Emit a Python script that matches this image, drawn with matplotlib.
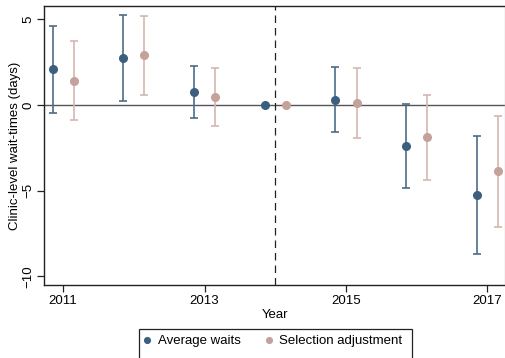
import matplotlib
matplotlib.use("Agg")
import matplotlib.pyplot as plt
from matplotlib.patches import Rectangle
import numpy as np

plt.rcParams['font.family'] = ['Liberation Sans', 'DejaVu Sans']

years = [2011, 2012, 2013, 2014, 2015, 2016, 2017]

avg_est = [2.07, 2.73, 0.78, 0.0, 0.31, -2.40, -5.25]
avg_lo = [-0.47, 0.25, -0.76, 0.0, -1.61, -4.84, -8.70]
avg_hi = [4.61, 5.25, 2.27, 0.0, 2.19, 0.04, -1.80]

sel_est = [1.41, 2.89, 0.47, 0.0, 0.10, -1.90, -3.88]
sel_lo = [-0.91, 0.56, -1.24, 0.0, -1.94, -4.40, -7.13]
sel_hi = [3.74, 5.21, 2.17, 0.0, 2.13, 0.60, -0.62]

xticks = [2011, 2013, 2015, 2017]
yticks = [-10, -5, 0, 5]
event_year = 2014
offset = 0.15

blue = '#3d5f7e'
blue_bar = '#4d6d88'
pink = '#c4a29b'
pink_bar = '#d4b6b0'

W, H = 506, 358
fig = plt.figure(figsize=(W / 100, H / 100), dpi=100)
ax = fig.add_axes([0.087, 0.204, 0.911, 0.779])

x = np.array(years, dtype=float)


def draw(xs, est, lo, hi, color, barcolor, label):
    est = np.array(est)
    lo = np.array(lo)
    hi = np.array(hi)
    has_ci = hi != lo
    ax.errorbar(xs[has_ci], est[has_ci],
                yerr=[est[has_ci] - lo[has_ci], hi[has_ci] - est[has_ci]],
                fmt='none', ecolor=barcolor, elinewidth=1.2, capsize=3.2,
                capthick=1.2, zorder=3)
    ax.plot(xs, est, 'o', color=color, markersize=5.5, zorder=4,
            linestyle='none', label=label)


ax.axhline(0, color='#555555', linewidth=1.0, zorder=2)
ax.axvline(event_year, color='#222222', linewidth=0.9, linestyle=(0, (6, 4)), zorder=2)

draw(x - offset, avg_est, avg_lo, avg_hi, blue, blue_bar, 'Average waits')
draw(x + offset, sel_est, sel_lo, sel_hi, pink, pink_bar, 'Selection adjustment')

ax.set_xlim(2010.73, 2017.25)
ax.set_ylim(-10.5, 5.76)
ax.set_xticks(xticks)
ax.set_yticks(yticks)
ax.tick_params(axis='both', direction='out', length=5, width=0.9, labelsize=9.5,
               color='#222222')
ax.tick_params(axis='y', labelrotation=90, pad=2)
for lab in ax.get_yticklabels():
    lab.set_va('center')
ax.tick_params(axis='x', pad=2)

ax.set_xlabel('Year', fontsize=9.5, labelpad=2)
ax.set_ylabel('Clinic-level wait-times (days)', fontsize=9.5, labelpad=1)

for side in ['left', 'bottom', 'top']:
    ax.spines[side].set_color('#222222')
    ax.spines[side].set_linewidth(1.0)
ax.spines['right'].set_color('#cccccc')
ax.spines['right'].set_linewidth(1.0)

# Legend entries, with a box that runs off the lower edge of the figure
leg = fig.legend(loc='center', bbox_to_anchor=(271.5 / W, 1 - 341 / H),
                 ncol=2, fontsize=9.5, frameon=False,
                 handletextpad=0.3, columnspacing=1.6,
                 borderpad=0.0, markerscale=0.75, handlelength=1.0)
box = Rectangle((139 / W, -0.05), (412 - 139) / W, 0.05 + 1 - 329 / H,
                transform=fig.transFigure, facecolor='none',
                edgecolor='#222222', linewidth=0.9, clip_on=False)
fig.add_artist(box)

fig.savefig('out.png', dpi=100)
